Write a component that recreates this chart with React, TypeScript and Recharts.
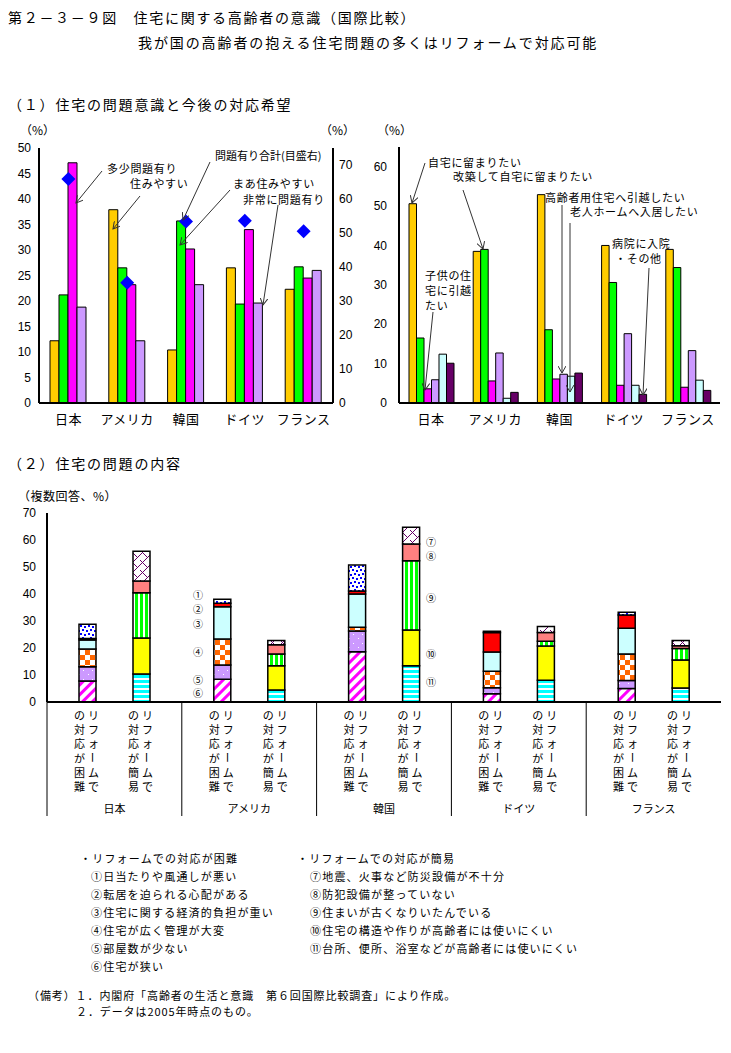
import React from "react";
import { ComposedChart, BarChart, Bar, Line, XAxis, YAxis } from "recharts";

const countries = ["日本", "アメリカ", "韓国", "ドイツ", "フランス"];

// (1) 左：住宅の問題意識（%）
const sumiyasui = [12.2, 37.9, 10.4, 26.5, 22.3];
const maaSumiyasui = [21.2, 26.5, 35.7, 19.4, 26.7];
const tashouMondai = [47.1, 23.2, 30.2, 34.0, 24.5];
const hijouMondai = [18.8, 12.2, 23.2, 19.6, 26.0];
const mondaiGoukei = [65.9, 35.4, 53.4, 53.6, 50.5]; // 目盛右

// (1) 右：今後の対応希望（%）
const stayHome = [50.6, 38.5, 52.9, 40.0, 39.0];
const renovateStay = [16.5, 39.0, 18.6, 30.6, 34.4];
const moveChild = [3.6, 5.6, 6.1, 4.5, 4.0];
const moveSenior = [5.9, 12.7, 7.3, 17.6, 13.3];
const nursingHome = [12.4, 1.2, 6.8, 4.5, 5.8];
const hospitalOther = [10.1, 2.7, 7.6, 2.2, 3.2];

// (2) 住宅の問題の内容（複数回答、%）
const hard1 = [5.3, 1.5, 9.6, 0.5, 1.0];
const hard2 = [0.5, 1.3, 1.1, 7.2, 4.9];
const hard3 = [3.4, 12.0, 12.3, 7.1, 9.5];
const hard4 = [6.5, 9.6, 1.4, 6.1, 9.8];
const hard5 = [5.3, 5.3, 7.7, 2.2, 3.0];
const hard6 = [7.8, 8.4, 18.6, 3.1, 5.0];
const easy7 = [11.0, 1.6, 6.2, 2.3, 2.0];
const easy8 = [4.3, 3.4, 6.2, 3.2, 1.0];
const easy9 = [16.8, 4.4, 25.6, 1.8, 4.2];
const easy10 = [13.3, 9.0, 13.3, 12.6, 10.4];
const easy11 = [10.4, 4.4, 13.4, 8.1, 5.2];

const leftTicks = [0, 5, 10, 15, 20, 25, 30, 35, 40, 45, 50];
const rightTicks = [0, 10, 20, 30, 40, 50, 60, 70];
const wishTicks = [0, 10, 20, 30, 40, 50, 60];
const contentTicks = [0, 10, 20, 30, 40, 50, 60, 70];

const hardLabel = "リフォームでの対応が困難";
const easyLabel = "リフォームでの対応が簡易";
const hardItems = [
  "①日当たりや風通しが悪い",
  "②転居を迫られる心配がある",
  "③住宅に関する経済的負担が重い",
  "④住宅が広く管理が大変",
  "⑤部屋数が少ない",
  "⑥住宅が狭い",
];
const easyItems = [
  "⑦地震、火事など防災設備が不十分",
  "⑧防犯設備が整っていない",
  "⑨住まいが古くなりいたんでいる",
  "⑩住宅の構造や作りが高齢者には使いにくい",
  "⑪台所、便所、浴室などが高齢者には使いにくい",
];

const awareness = countries.map((name, i) => ({
  name,
  sumiyasui: sumiyasui[i],
  maaSumiyasui: maaSumiyasui[i],
  tashouMondai: tashouMondai[i],
  hijouMondai: hijouMondai[i],
  goukei: mondaiGoukei[i],
}));

const wish = countries.map((name, i) => ({
  name,
  stayHome: stayHome[i],
  renovateStay: renovateStay[i],
  moveChild: moveChild[i],
  moveSenior: moveSenior[i],
  nursingHome: nursingHome[i],
  hospitalOther: hospitalOther[i],
}));

const contents = countries.map((name, i) => ({
  name,
  h1: hard1[i], h2: hard2[i], h3: hard3[i], h4: hard4[i], h5: hard5[i], h6: hard6[i],
  e7: easy7[i], e8: easy8[i], e9: easy9[i], e10: easy10[i], e11: easy11[i],
}));

// stack order bottom -> top
const hardBars = [
  { key: "h6", fill: "url(#pDiag)" },
  { key: "h5", fill: "url(#pDots)" },
  { key: "h4", fill: "url(#pCheck)" },
  { key: "h3", fill: "#ccffff" },
  { key: "h2", fill: "#ff0000" },
  { key: "h1", fill: "url(#pBlue)" },
];
const easyBars = [
  { key: "e11", fill: "url(#pHStripe)" },
  { key: "e10", fill: "#ffff00" },
  { key: "e9", fill: "url(#pVStripe)" },
  { key: "e8", fill: "#ff8080" },
  { key: "e7", fill: "url(#pLattice)" },
];

const FONT = '"Noto Sans CJK JP", "Noto Sans", sans-serif';
const NUM = '"Liberation Sans", Arial, sans-serif';
const AXIS = { stroke: "#000", strokeWidth: 2 };
const numTick = { fill: "#000", fontSize: 12, fontFamily: NUM };
const catTick = { fill: "#000", fontSize: 13, letterSpacing: 0.5 };

const PLOT3_W = 674;
const BAR3 = 17;
const GAP3 = 37;

const Diamond = (p: any) => {
  const { cx, cy, index } = p;
  if (cx == null || cy == null) return <g key={index} />;
  return (
    <path
      key={index}
      d={`M${cx},${cy - 7}L${cx + 7},${cy}L${cx},${cy + 7}L${cx - 7},${cy}Z`}
      fill="#0000ff"
    />
  );
};

const VColumn = ({ x, y, chars }: { x: number; y: number; chars: string[] }) => (
  <>
    {chars.map((c, r) => {
      const cy = y + 13 + r * 14.2;
      return (
        <text
          key={r}
          x={x}
          y={cy}
          textAnchor="middle"
          dominantBaseline="central"
          fontSize={11}
          fill="#000"
          transform={c === "ー" ? `rotate(90 ${x} ${cy})` : undefined}
        >
          {c}
        </text>
      );
    })}
  </>
);

const TableTick = (props: any) => {
  const { x, y, payload } = props;
  const band = PLOT3_W / countries.length;
  const half = (BAR3 + GAP3) / 2;
  const cols = [
    { bc: x - half, chars: Array.from(hardLabel) },
    { bc: x + half, chars: Array.from(easyLabel) },
  ];
  return (
    <g>
      <line x1={x - band / 2} y1={y} x2={x - band / 2} y2={y + 114} stroke="#000" strokeWidth={1} />
      {cols.map((c, k) => (
        <g key={k}>
          <VColumn x={c.bc + 6} y={y} chars={c.chars.slice(0, 6)} />
          <VColumn x={c.bc - 8} y={y} chars={c.chars.slice(6)} />
        </g>
      ))}
      <text x={x} y={y + 106} textAnchor="middle" dominantBaseline="central" fontSize={11} fill="#000">
        {payload.value}
      </text>
    </g>
  );
};

const T = ({ x, y, children, size = 11, ls = 0.7, anchor = "start" }: any) => (
  <text
    x={x}
    y={y}
    fontSize={size}
    letterSpacing={ls}
    textAnchor={anchor}
    dominantBaseline="central"
    fill="#000"
  >
    {children}
  </text>
);

const arrows = [
  [102, 171, 76, 203],
  [140, 196, 113, 229],
  [210, 162, 183, 220],
  [230, 190, 180, 245],
  [278, 205, 263, 305],
  [425, 163, 412, 203],
  [463, 190, 483, 249],
  [433, 312, 425, 390],
  [562, 205, 562, 373],
  [570, 223, 570, 392],
  [649, 268, 643, 395],
];

const App: React.FC = () => {
  return (
    <div style={{ position: "absolute", left: 0, top: 0, width: 731, height: 1053, background: "#fff", fontFamily: FONT }}>
      <svg width={0} height={0} style={{ position: "absolute" }}>
        <defs>
          <pattern id="pDiag" patternUnits="userSpaceOnUse" width="7" height="7" patternTransform="rotate(45)">
            <rect width="7" height="7" fill="#fff" />
            <rect width="3" height="7" fill="#ff00ff" />
          </pattern>
          <pattern id="pDots" patternUnits="userSpaceOnUse" width="9" height="9">
            <rect width="9" height="9" fill="#cc99ff" />
            <rect x="2" y="3" width="1" height="1" fill="#fff" />
            <rect x="7" y="7" width="1" height="1" fill="#fff" />
          </pattern>
          <pattern id="pCheck" patternUnits="userSpaceOnUse" width="10" height="10">
            <rect width="10" height="10" fill="#fff" />
            <rect width="5" height="5" fill="#ff6600" />
            <rect x="5" y="5" width="5" height="5" fill="#ff6600" />
          </pattern>
          <pattern id="pBlue" patternUnits="userSpaceOnUse" width="8" height="8">
            <rect width="8" height="8" fill="#fff" />
            <rect x="0" y="0" width="2" height="2" fill="#0000ff" />
            <rect x="4" y="1" width="2" height="2" fill="#0000ff" />
            <rect x="2" y="4" width="2" height="2" fill="#0000ff" />
            <rect x="6" y="5" width="2" height="2" fill="#0000ff" />
          </pattern>
          <pattern id="pHStripe" patternUnits="userSpaceOnUse" width="6" height="5">
            <rect width="6" height="5" fill="#fff" />
            <rect width="6" height="3" fill="#00ffff" />
          </pattern>
          <pattern id="pVStripe" patternUnits="userSpaceOnUse" width="5" height="6">
            <rect width="5" height="6" fill="#fff" />
            <rect width="3" height="6" fill="#00ff00" />
          </pattern>
          <pattern id="pLattice" patternUnits="userSpaceOnUse" width="10" height="10">
            <rect width="10" height="10" fill="#fff" />
            <path d="M0,10 L10,0 M0,5 L5,10 M5,0 L7,2" stroke="#660066" strokeWidth="1" fill="none" />
          </pattern>
          <marker id="ah" markerWidth="8" markerHeight="8" refX="7" refY="4" orient="auto" markerUnits="userSpaceOnUse">
            <path d="M0,0 L7,4 L0,8" fill="none" stroke="#333" strokeWidth="1" />
          </marker>
        </defs>
      </svg>

      {/* (1) 左 */}
      <div style={{ position: "absolute", left: 0, top: 140 }}>
        <ComposedChart width={372} height={293} data={awareness} margin={{ top: 8, right: 0, bottom: 0, left: 0 }} barGap={0} barSize={9}>
          <XAxis xAxisId="top" orientation="top" dataKey="name" height={0} tick={false} tickLine={false} axisLine={AXIS} />
          <XAxis xAxisId="b" dataKey="name" height={30} interval={0} tickLine={false} axisLine={AXIS} tick={catTick} tickMargin={6} />
          <YAxis yAxisId="l" domain={[0, 50]} ticks={leftTicks} interval={0} width={39} tickLine={false} axisLine={AXIS} tick={numTick} />
          <YAxis yAxisId="r" orientation="right" domain={[0, 75]} ticks={rightTicks} interval={0} width={39} tickLine={false} tickSize={3} tickMargin={3} axisLine={AXIS} tick={numTick} />
          <Bar xAxisId="b" yAxisId="l" dataKey="sumiyasui" fill="#ffcc00" stroke="#000" strokeWidth={1} isAnimationActive={false} />
          <Bar xAxisId="b" yAxisId="l" dataKey="maaSumiyasui" fill="#00ff00" stroke="#000" strokeWidth={1} isAnimationActive={false} />
          <Bar xAxisId="b" yAxisId="l" dataKey="tashouMondai" fill="#ff00ff" stroke="#000" strokeWidth={1} isAnimationActive={false} />
          <Bar xAxisId="b" yAxisId="l" dataKey="hijouMondai" fill="#cc99ff" stroke="#000" strokeWidth={1} isAnimationActive={false} />
          <Line xAxisId="b" yAxisId="r" dataKey="goukei" stroke="none" dot={Diamond} activeDot={false} isAnimationActive={false} />
        </ComposedChart>
      </div>

      {/* (1) 右 */}
      <div style={{ position: "absolute", left: 370, top: 140 }}>
        <BarChart width={351} height={293} data={wish} margin={{ top: 7, right: 1, bottom: 0, left: 0 }} barGap={0} barSize={7.5}>
          <XAxis xAxisId="top" orientation="top" dataKey="name" height={0} tick={false} tickLine={false} axisLine={AXIS} />
          <XAxis xAxisId="b" dataKey="name" height={30} interval={0} tickLine={false} axisLine={AXIS} tick={catTick} tickMargin={6} />
          <YAxis yAxisId="l" domain={[0, 65]} ticks={wishTicks} interval={0} width={29} tickLine={false} tickMargin={6} axisLine={AXIS} tick={numTick} />
          <YAxis yAxisId="r" orientation="right" width={0} tick={false} tickLine={false} axisLine={AXIS} />
          <Bar xAxisId="b" yAxisId="l" dataKey="stayHome" fill="#ffcc00" stroke="#000" strokeWidth={1} isAnimationActive={false} />
          <Bar xAxisId="b" yAxisId="l" dataKey="renovateStay" fill="#00ff00" stroke="#000" strokeWidth={1} isAnimationActive={false} />
          <Bar xAxisId="b" yAxisId="l" dataKey="moveChild" fill="#ff00ff" stroke="#000" strokeWidth={1} isAnimationActive={false} />
          <Bar xAxisId="b" yAxisId="l" dataKey="moveSenior" fill="#cc99ff" stroke="#000" strokeWidth={1} isAnimationActive={false} />
          <Bar xAxisId="b" yAxisId="l" dataKey="nursingHome" fill="#ccffff" stroke="#000" strokeWidth={1} isAnimationActive={false} />
          <Bar xAxisId="b" yAxisId="l" dataKey="hospitalOther" fill="#660066" stroke="#000" strokeWidth={1} isAnimationActive={false} />
        </BarChart>
      </div>

      {/* (2) */}
      <div style={{ position: "absolute", left: 0, top: 505 }}>
        <BarChart width={723} height={322} data={contents} margin={{ top: 8, right: 2, bottom: 0, left: 0 }} barGap={GAP3} barSize={BAR3}>
          <XAxis xAxisId="top" orientation="top" dataKey="name" height={0} tick={false} tickLine={false} axisLine={AXIS} />
          <XAxis xAxisId="b" dataKey="name" height={125} interval={0} tickLine={false} tickSize={0} tickMargin={0} axisLine={AXIS} tick={<TableTick />} />
          <YAxis yAxisId="l" domain={[0, 70]} ticks={contentTicks} interval={0} width={47} tickLine={false} tickMargin={5} axisLine={AXIS} tick={numTick} />
          <YAxis yAxisId="r" orientation="right" width={0} tick={false} tickLine={false} axisLine={AXIS} />
          {hardBars.map((b) => (
            <Bar key={b.key} xAxisId="b" yAxisId="l" dataKey={b.key} stackId="hard" fill={b.fill} stroke="#000" strokeWidth={1.5} isAnimationActive={false} />
          ))}
          {easyBars.map((b) => (
            <Bar key={b.key} xAxisId="b" yAxisId="l" dataKey={b.key} stackId="easy" fill={b.fill} stroke="#000" strokeWidth={1.5} isAnimationActive={false} />
          ))}
        </BarChart>
      </div>

      {/* texts and annotations */}
      <svg width={731} height={1053} style={{ position: "absolute", left: 0, top: 0, pointerEvents: "none" }}>
        <T x={8} y={17} size={14} ls={1.7}>第２－３－９図　住宅に関する高齢者の意識（国際比較）</T>
        <T x={138} y={42} size={14} ls={1.9}>我が国の高齢者の抱える住宅問題の多くはリフォームで対応可能</T>
        <T x={8} y={104} size={14} ls={1.8}>（１）住宅の問題意識と今後の対応希望</T>
        <T x={20} y={129} size={12} ls={0}>（%）</T>
        <T x={320} y={129} size={12} ls={0}>（%）</T>
        <T x={377} y={129} size={12} ls={0}>（%）</T>

        <T x={107} y={168}>多少問題有り</T>
        <T x={130} y={183}>住みやすい</T>
        <T x={215} y={155} ls={0}>問題有り合計(目盛右)</T>
        <T x={233} y={183}>まあ住みやすい</T>
        <T x={243} y={199}>非常に問題有り</T>

        <T x={428} y={162}>自宅に留まりたい</T>
        <T x={453} y={176}>改築して自宅に留まりたい</T>
        <T x={425} y={275}>子供の住</T>
        <T x={425} y={290}>宅に引越</T>
        <T x={425} y={305}>たい</T>
        <T x={545} y={197}>高齢者用住宅へ引越したい</T>
        <T x={570} y={211}>老人ホームへ入居したい</T>
        <T x={612} y={243}>病院に入院</T>
        <T x={615} y={258}>・その他</T>

        {arrows.map((a, i) => (
          <line key={i} x1={a[0]} y1={a[1]} x2={a[2]} y2={a[3]} stroke="#333" strokeWidth={1} markerEnd="url(#ah)" />
        ))}

        <T x={8} y={463} size={14} ls={1.8}>（２）住宅の問題の内容</T>
        <T x={18} y={495} size={12} ls={0.5}>（複数回答、%）</T>

        {["①", "②", "③", "④", "⑤", "⑥"].map((c, i) => (
          <T key={c} x={198} y={[594, 608, 623, 651, 679, 692][i]} size={10} ls={0} anchor="middle">{c}</T>
        ))}
        {["⑦", "⑧", "⑨", "⑩", "⑪"].map((c, i) => (
          <T key={c} x={431} y={[541, 555, 597, 653, 681][i]} size={10} ls={0} anchor="middle">{c}</T>
        ))}

        <T x={80} y={858} ls={1.2}>・{hardLabel}</T>
        {hardItems.map((s, i) => (
          <T key={s} x={91} y={876 + i * 18} ls={1.2}>{s}</T>
        ))}
        <T x={297} y={858} ls={1.2}>・{easyLabel}</T>
        {easyItems.map((s, i) => (
          <T key={s} x={310} y={876 + i * 18} ls={1.2}>{s}</T>
        ))}

        <T x={28} y={995} ls={0.9}>（備考）１．内閣府「高齢者の生活と意識　第６回国際比較調査」により作成。</T>
        <T x={76} y={1011} ls={0.9}>２．データは2005年時点のもの。</T>
      </svg>
    </div>
  );
};

export default App;
